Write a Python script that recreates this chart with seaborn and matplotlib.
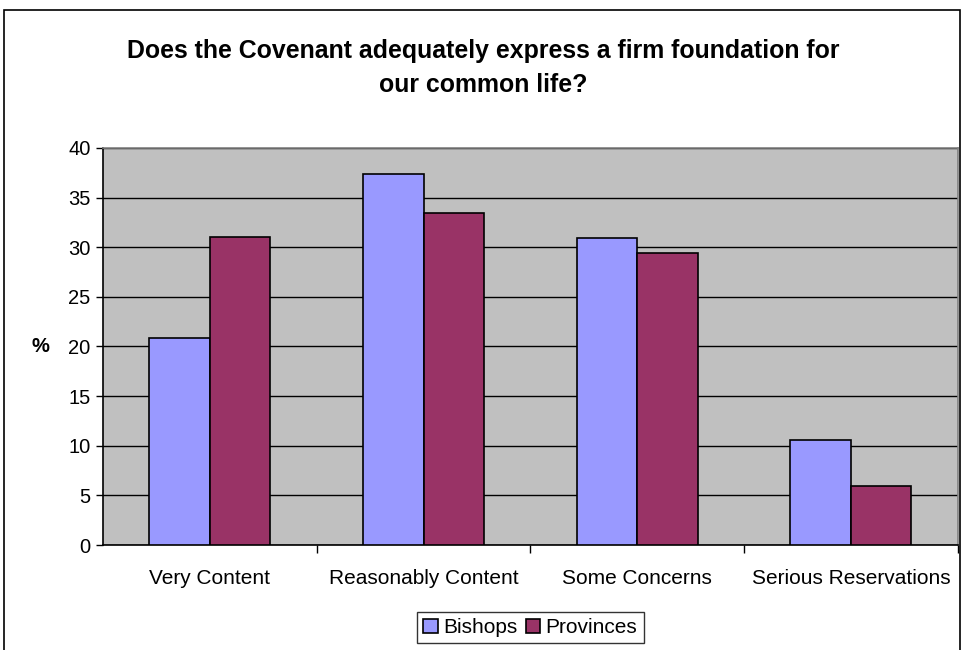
import seaborn as sns
import matplotlib.pyplot as plt
import pandas as pd
from matplotlib.patches import Rectangle

# chart values
categories = ["Very Content", "Reasonably Content", "Some Concerns", "Serious Reservations"]
series = ["Bishops", "Provinces"]
bishops = [20.9, 37.4, 30.9, 10.6]
provinces = [31.0, 33.4, 29.4, 5.9]
yticks = [0, 5, 10, 15, 20, 25, 30, 35, 40]
colors = ["#9999FF", "#993366"]

df = pd.DataFrame({
    "Response": categories * 2,
    "Group": [series[0]] * 4 + [series[1]] * 4,
    "Percent": bishops + provinces,
})

sns.set_style("white")
plt.rcParams["font.family"] = ["Liberation Sans", "DejaVu Sans"]
plt.rcParams["text.color"] = "black"
plt.rcParams["xtick.color"] = "black"
plt.rcParams["ytick.color"] = "black"
plt.rcParams["axes.labelcolor"] = "black"

fig = plt.figure(figsize=(9.67, 6.5), dpi=100)
ax = fig.add_axes([0.1065, 0.1615, 0.884, 0.611])

sns.barplot(data=df, x="Response", y="Percent", hue="Group", palette=colors,
            saturation=1, width=0.566, gap=0, edgecolor="black", linewidth=1.2,
            ax=ax, zorder=3)

ax.set_facecolor("#C0C0C0")
ax.set_ylim(0, 40)
ax.set_xlim(-0.5, 3.5)
ax.set_yticks(yticks)
ax.yaxis.grid(True, color="black", linewidth=1, zorder=0)
ax.set_axisbelow(True)
ax.tick_params(axis="y", labelsize=14.5, length=5, width=1, direction="out", left=True, pad=4)
ax.tick_params(axis="x", which="major", labelsize=15, length=0, pad=17)
ax.set_xticks([0.5, 1.5, 2.5, 3.5], minor=True)
ax.tick_params(axis="x", which="minor", length=6, width=1, bottom=True, direction="out")

for side in ["left", "bottom"]:
    ax.spines[side].set_color("black")
    ax.spines[side].set_linewidth(1.2)
for side in ["top", "right"]:
    ax.spines[side].set_color("#808080")
    ax.spines[side].set_linewidth(1.2)

ax.set_xlabel("")
ax.set_ylabel("%", fontsize=14.5, fontweight="bold", rotation=0, labelpad=20, va="center")

fig.text(0.4995, 0.895, "Does the Covenant adequately express a firm foundation for\nour common life?",
         ha="center", va="center", fontsize=17.9, fontweight="bold", linespacing=1.55)

leg = ax.legend(loc="center", bbox_to_anchor=(0.5, -0.208), ncol=2, fontsize=15,
                frameon=True, fancybox=False, edgecolor="black", handlelength=0.7,
                handleheight=0.7, handletextpad=0.25, columnspacing=0.4, borderpad=0.3,
                borderaxespad=0)
leg.get_frame().set_linewidth(1)

# outer chart border
fig.patches.append(Rectangle((4 / 967, -0.05), 956 / 967, 1 - 10 / 650 + 0.05,
                             transform=fig.transFigure, fill=False, edgecolor="black",
                             linewidth=1.2, clip_on=False))

fig.savefig("out.png", dpi=100)
